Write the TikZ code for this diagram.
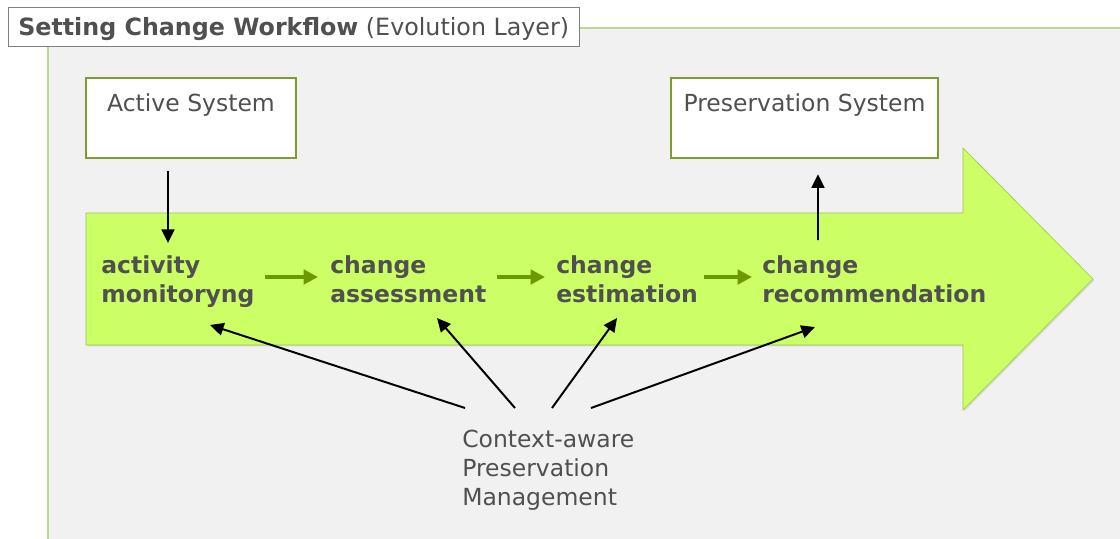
\documentclass[tikz,border=0pt]{standalone}
\usepackage{fontspec}
\setmainfont{DejaVu Sans}
\usetikzlibrary{arrows.meta, positioning, calc, shadows}

\definecolor{panelgrey}{HTML}{F1F1F1}
\definecolor{panelline}{HTML}{B8DA8E}
\definecolor{boxline}{HTML}{7C9C2C}
\definecolor{arrowfill}{HTML}{CCFF66}
\definecolor{arrowline}{HTML}{94C84C}
\definecolor{flowgreen}{HTML}{6B9A00}
\definecolor{inkgrey}{HTML}{505050}

\begin{document}
\begin{tikzpicture}[
    x=0.025cm, y=-0.025cm,
    system/.style={draw=boxline, line width=1.7pt, fill=white, inner sep=0pt, minimum width=5.25cm,
        text height=0.85cm, text depth=1.15cm, text=inkgrey, font=\fontsize{16.7}{20}\selectfont},
    stage/.style={anchor=north west, inner sep=0pt, align=left, text=inkgrey,
        font=\fontsize{16.7}{20.6}\selectfont\bfseries},
    flow/.style={-{Triangle[length=3.6mm, width=3.6mm]}, flowgreen, line width=2.6pt},
    link/.style={-{Triangle[length=3.4mm, width=3.2mm]}, line width=1.4pt}
]
    \useasboundingbox (0,0) rectangle (1120,539);

    % Layer panel
    \fill[panelgrey] (48,28) rectangle (1120,539);
    \draw[panelline, line width=1pt] (48,539) -- (48,28) -- (1120,28);
    \node[draw=gray, fill=white, anchor=north west, inner xsep=0.25cm, inner ysep=0pt,
        text height=0.7cm, text depth=0.275cm, text=inkgrey, font=\fontsize{16.9}{20}\selectfont]
        (title) at (8,7) {\textbf{Setting Change Workflow} (Evolution Layer)};

    % Big workflow arrow
    \draw[arrowline, fill=arrowfill, drop shadow={opacity=0.2, shadow xshift=1pt, shadow yshift=-1pt}]
        (86,213) -- (963,213) -- (963,148) -- (1093,279) -- (963,410) -- (963,345) -- (86,345) -- cycle;

    % Systems
    \node[system] (active) at (191,118) {Active System};
    \node[system, minimum width=6.675cm] (preserv) at (804.5,118) {Preservation System};

    % Workflow stages
    \node[stage] (monitor) at (101,255) {activity\\monitoryng};
    \node[stage] (assess) at (330,255) {change\\assessment};
    \node[stage] (estim) at (556,255) {change\\estimation};
    \node[stage] (recomm) at (762,255) {change\\recommendation};

    \node[anchor=north west, inner sep=0pt, align=left, text=inkgrey, font=\fontsize{16.7}{20.6}\selectfont]
        (context) at (462,430) {Context-aware\\Preservation\\Management};

    % Stage flow
    \draw[flow] ($(monitor.north west)+(164,22)$) -- ($(assess.north west)+(-12,22)$);
    \draw[flow] ($(assess.north west)+(167,22)$) -- ($(estim.north west)+(-11,22)$);
    \draw[flow] ($(estim.north west)+(148,22)$) -- ($(recomm.north west)+(-10,22)$);

    % System links
    \draw[link] ($(active.south)+(-23,12)$) -- ($(monitor.north west)+(67,-12)$);
    \draw[link] ($(recomm.north west)+(56,-15)$) -- ($(preserv.south)+(13.5,15)$);

    % Context management links
    \draw[link] ($(context.north west)+(3,-22)$) -- ($(monitor.north west)+(109,70)$);
    \draw[link] ($(context.north west)+(53,-22)$) -- ($(assess.north west)+(107,63)$);
    \draw[link] ($(context.north west)+(90,-22)$) -- ($(estim.north west)+(61,63)$);
    \draw[link] ($(context.north west)+(129,-22)$) -- ($(recomm.north west)+(53,72)$);

\end{tikzpicture}
\end{document}
